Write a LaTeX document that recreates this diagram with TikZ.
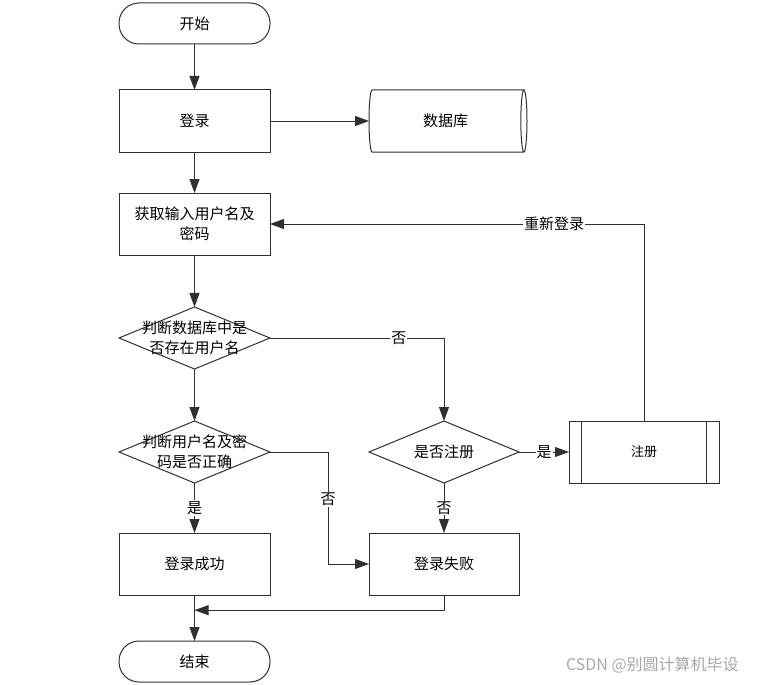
\documentclass[tikz,border=0pt]{standalone}
\usepackage{fontspec}
\newfontfamily\cjk{Noto Sans CJK SC}
\usetikzlibrary{arrows.meta,positioning,shapes.geometric,calc}
\definecolor{Ln}{HTML}{303030}
\definecolor{Wm}{HTML}{A8A8A8}

\begin{document}
\begin{tikzpicture}[x=1pt, y=1pt, node distance=46pt and 99pt,
    font=\cjk\fontsize{15}{20}\selectfont, line width=1pt, draw=Ln,
    >={Triangle[length=14pt,width=10pt]},
    every node/.style={outer sep=0pt},
    term/.style={draw=Ln, rounded corners=20pt, minimum width=151pt, minimum height=41pt},
    box/.style={draw=Ln, align=center, minimum width=151pt, minimum height=62pt},
    dec/.style={draw=Ln, diamond, minimum width=151pt, minimum height=62pt, inner sep=0pt},
    db/.style={draw=Ln, cylinder, aspect=0.3, minimum width=62pt, minimum height=158pt},
    lbl/.style={fill=white, inner sep=1pt}]
  % page frame
  \useasboundingbox (0,0) rectangle (758,-685);
  \node[term] (start) at (194.5,-23.5) {开始};
  \node[box, below=of start] (login) {登录};
  \node[db, right=of login] (data) {数据库};
  \node[box, below=41pt of login] (input) {获取输入用户名及\\密码};
  \node[dec, below=52pt of input, label={[align=center]center:{判断数据库中是\\否存在用户名}}] (chk1) {};
  \node[dec, below=52pt of chk1, label={[align=center]center:{判断用户名及密\\码是否正确}}] (chk2) {};
  \node[dec, right=of chk2, minimum width=150pt, label=center:是否注册] (ask) {};
  \node[box, right=50pt of ask, minimum width=150pt, font=\cjk\fontsize{13}{16}\selectfont] (signup) {注册};
  \node[box, below=50pt of chk2] (ok) {登录成功};
  \node[box, right=of ok, minimum width=150pt] (fail) {登录失败};
  \node[term, below=of ok] (stop) {结束};
  % predefined process sides
  \draw ([xshift=12pt]signup.north west) -- ([xshift=12pt]signup.south west);
  \draw ([xshift=-13pt]signup.north east) -- ([xshift=-13pt]signup.south east);
  % flow
  \draw[->] (start) -- (login);
  \draw[->] (login) -- (data);
  \draw[->] (login) -- (input);
  \draw[->] (input) -- (chk1);
  \draw[->] (chk1) -- (chk2);
  \draw[->] (chk1.east) -| node[lbl, pos=0.37] {否} (ask.north);
  \draw[->] (chk2) -- node[lbl] {是} (ok);
  \draw[->] (chk2.east) -- ++(58,0) |- node[lbl, pos=0.21] {否} (fail.west);
  \draw[->] (ask) -- node[lbl] {否} (fail);
  \draw[->] (ask) -- node[lbl] {是} (signup);
  \draw[->] (signup.north) |- node[lbl, pos=0.62] {重新登录} (input.east);
  \draw[->] (ok) -- (stop);
  \coordinate (merge) at ($(ok.south)!0.33!(stop.north)$);
  \draw[->] (fail.south) |- (merge);
  \node[anchor=east, text=Wm, font=\cjk\fontsize{16}{16}\selectfont] (mark) at (742,-665) {CSDN @别圆计算机毕设};
\end{tikzpicture}
\end{document}
